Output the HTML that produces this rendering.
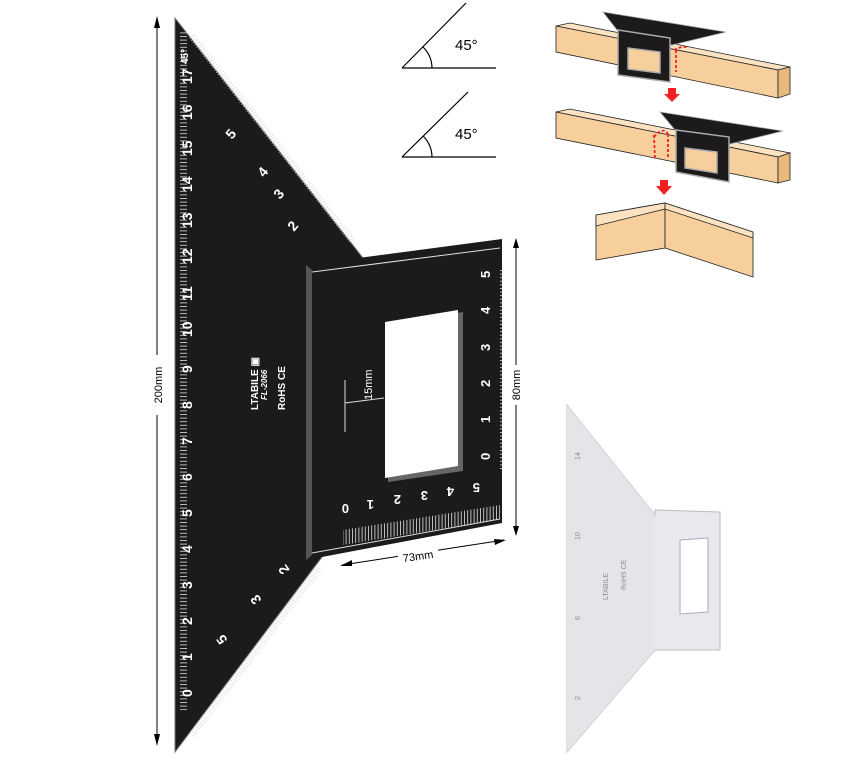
<!DOCTYPE html>
<html><head><meta charset="utf-8"><style>
body{margin:0;background:#fff;width:842px;height:768px;overflow:hidden}
svg{display:block;font-family:"Liberation Sans",sans-serif}
</style></head><body>
<svg width="842" height="768" viewBox="0 0 842 768">
<defs>
<pattern id="tk" x="0" y="18" width="20" height="3.6" patternUnits="userSpaceOnUse">
<line x1="0" y1="0.5" x2="8" y2="0.5" stroke="#fff" stroke-width="0.7"/></pattern>
<pattern id="tkh" x="0" y="0" width="3.2" height="20" patternUnits="userSpaceOnUse">
<line x1="0.5" y1="0" x2="0.5" y2="20" stroke="#fff" stroke-width="0.7"/></pattern>
<pattern id="tkg" x="0" y="0" width="20" height="2" patternUnits="userSpaceOnUse">
<line x1="0" y1="0.5" x2="5" y2="0.5" stroke="#9aa" stroke-width="0.5"/></pattern>
</defs>
<line x1="157" y1="22" x2="157" y2="740" stroke="#000"/>
<polygon points="157,16 154,28 160,28" fill="#000"/><polygon points="157,746 154,734 160,734" fill="#000"/>
<rect x="150" y="355" width="14" height="60" fill="#fff"/>
<text transform="translate(162,385) rotate(-90)" font-size="11" text-anchor="middle">200mm</text>
<polygon points="175,18 457,378 175,752" fill="#1c1a1a"/>
<polygon points="175,18 457,378 175,752" fill="none" stroke="#777" stroke-width="1"/>
<rect x="175" y="30" width="12" height="680" fill="url(#tk)"/>
<g fill="#fff" font-size="14" font-weight="bold">
<text transform="translate(192,84) rotate(-90)">17</text><text transform="translate(192,120) rotate(-90)">16</text>
<text transform="translate(192,156) rotate(-90)">15</text><text transform="translate(192,192) rotate(-90)">14</text>
<text transform="translate(192,228) rotate(-90)">13</text><text transform="translate(192,264) rotate(-90)">12</text>
<text transform="translate(192,301) rotate(-90)">11</text><text transform="translate(192,337) rotate(-90)">10</text>
<text transform="translate(192,373) rotate(-90)">9</text><text transform="translate(192,409) rotate(-90)">8</text>
<text transform="translate(192,445) rotate(-90)">7</text><text transform="translate(192,481) rotate(-90)">6</text>
<text transform="translate(192,517) rotate(-90)">5</text><text transform="translate(192,553) rotate(-90)">4</text>
<text transform="translate(192,589) rotate(-90)">3</text><text transform="translate(192,625) rotate(-90)">2</text>
<text transform="translate(192,661) rotate(-90)">1</text><text transform="translate(192,697) rotate(-90)">0</text>
<text transform="translate(188,64) rotate(-90)" font-size="10">45°</text>
<text transform="translate(258,410) rotate(-90)" font-size="10">LTABILE ▣</text>
<text transform="translate(267,400) rotate(-90)" font-size="8" font-style="italic">FL-2066</text>
<text transform="translate(285,410) rotate(-90)" font-size="10">RoHS  CE</text>
<text transform="translate(232,140) rotate(-50)">5</text><text transform="translate(264,178) rotate(-50)">4</text>
<text transform="translate(280,200) rotate(-50)">3</text><text transform="translate(294,232) rotate(-50)">2</text>
<text transform="translate(228,640) rotate(-125)">5</text><text transform="translate(262,600) rotate(-125)">3</text>
<text transform="translate(290,570) rotate(-125)">2</text>
</g>
<line x1="192" y1="36" x2="352" y2="240" stroke="#ddd" stroke-width="7" stroke-dasharray="0.7 2.2"/>
<line x1="192" y1="735" x2="320" y2="567" stroke="#ddd" stroke-width="7" stroke-dasharray="0.7 2.2"/>
<polygon points="306,265 502,239 502,523 306,560" fill="#1c1a1a"/>
<polygon points="306,265 312,270 312,555 306,560" fill="#555"/>
<line x1="312" y1="272" x2="500" y2="248" stroke="#ddd" stroke-width="1"/>
<line x1="312" y1="553" x2="500" y2="519" stroke="#ddd" stroke-width="1"/>
<polygon points="388,324 463,312 463,471 388,482" fill="#666"/>
<polygon points="385,322 458,310 458,466 385,478" fill="#fff"/>
<rect x="490" y="270" width="12" height="200" fill="url(#tk)"/>
<polygon points="343,530 500,505 500,519 343,545" fill="url(#tkh)"/>
<g fill="#fff" font-size="13" font-weight="bold">
<text transform="translate(490,278) rotate(-90)">5</text><text transform="translate(490,314) rotate(-90)">4</text>
<text transform="translate(490,351) rotate(-90)">3</text><text transform="translate(490,387) rotate(-90)">2</text>
<text transform="translate(490,423) rotate(-90)">1</text><text transform="translate(490,460) rotate(-90)">0</text>
<text transform="translate(349,504) rotate(180)">0</text><text transform="translate(374,500) rotate(180)">1</text>
<text transform="translate(401,495) rotate(180)">2</text><text transform="translate(428,491) rotate(180)">3</text>
<text transform="translate(454,487) rotate(180)">4</text><text transform="translate(480,483) rotate(180)">5</text>
<text transform="translate(372,400) rotate(-90)" font-size="11" font-weight="normal">15mm</text>
</g>
<line x1="345" y1="380" x2="345" y2="432" stroke="#ddd"/><line x1="345" y1="403" x2="384" y2="398" stroke="#ddd"/>
<line x1="516" y1="244" x2="516" y2="530" stroke="#000"/>
<polygon points="516,238 513,248 519,248" fill="#000"/><polygon points="516,536 513,526 519,526" fill="#000"/>
<rect x="510" y="365" width="12" height="40" fill="#fff"/>
<text transform="translate(520,385) rotate(-90)" font-size="11" text-anchor="middle">80mm</text>
<line x1="342" y1="565" x2="504" y2="540" stroke="#000"/>
<polygon points="340,566 352,560 352,566" fill="#000"/><polygon points="506,540 494,539 495,545" fill="#000"/>
<rect x="398" y="548" width="40" height="14" fill="#fff"/>
<text x="418" y="560" font-size="11" text-anchor="middle" transform="rotate(-8 418 556)">73mm</text>
<g stroke="#000" fill="none" stroke-width="1.2">
<line x1="402" y1="68" x2="496" y2="68"/><line x1="402" y1="68" x2="466" y2="3"/><path d="M432,68 A30,30 0 0 0 423,47"/>
<line x1="402" y1="157" x2="496" y2="157"/><line x1="402" y1="157" x2="468" y2="92"/><path d="M432,157 A30,30 0 0 0 423,136"/>
</g>
<text x="455" y="50" font-size="15">45°</text><text x="455" y="139" font-size="15">45°</text>
<g stroke="#222" stroke-width="0.8">
<polygon points="556,26 570,23 790,67 778,70" fill="#fbe3c2"/>
<polygon points="556,26 778,70 778,98 556,52" fill="#f6cf9c"/>
<polygon points="778,70 790,67 790,94 778,98" fill="#e8b97d"/>
<polygon points="603,12 726,32 672,45 617,30" fill="#1c1a1a" stroke="#aaa"/>
<polygon points="618,30 670,38 670,82 618,75" fill="#1c1a1a" stroke="#aaa" stroke-width="1.5"/>
<polygon points="628,48 660,52 660,73 628,69" fill="#f6cf9c" stroke="#aaa" stroke-width="1.5"/>
<polygon points="556,112 570,109 790,153 778,157" fill="#fbe3c2"/>
<polygon points="556,112 778,157 778,183 556,138" fill="#f6cf9c"/>
<polygon points="778,157 790,153 790,180 778,183" fill="#e8b97d"/>
<polygon points="660,112 783,131 730,144 675,130" fill="#1c1a1a" stroke="#aaa"/>
<polygon points="676,130 729,137 729,182 676,172" fill="#1c1a1a" stroke="#aaa" stroke-width="1.5"/>
<polygon points="685,148 717,152 717,173 685,168" fill="#f6cf9c" stroke="#aaa" stroke-width="1.5"/>
<polygon points="596,215 665,203 665,248 596,260" fill="#f6cf9c"/>
<polygon points="665,203 753,232 753,277 665,248" fill="#f6cf9c"/>
<polygon points="596,215 665,203 665,209 596,226" fill="#fbe3c2"/>
<polygon points="665,203 753,232 753,238 665,209" fill="#fbe3c2"/>
</g>
<g stroke="#e22" stroke-width="1.8" stroke-dasharray="3 2" fill="none">
<path d="M674,50 Q684,45 688,48"/><line x1="676" y1="50" x2="676" y2="72"/>
<path d="M654,137 Q663,126 668,134"/><line x1="654" y1="135" x2="655" y2="160"/><line x1="668" y1="134" x2="668" y2="158"/>
</g>
<polygon points="668,88 676,88 676,94 680,94 672,102 664,94 668,94" fill="#e22"/>
<polygon points="660,180 668,180 668,186 672,186 664,195 656,186 660,186" fill="#e22"/>
<polygon points="567,405 655,515 655,510 720,512 720,650 655,650 567,752" fill="#e7e9ec" stroke="#b8bcc0"/>
<polygon points="567,405 655,515 655,650 567,752" fill="#e3e5e8"/>
<rect x="567" y="420" width="8" height="320" fill="url(#tkg)"/>
<polygon points="680,540 708,538 708,612 680,614" fill="#fff" stroke="#aab"/>
<rect x="710" y="520" width="8" height="110" fill="url(#tkg)"/>
<g fill="#889" font-size="7">
<text transform="translate(580,460) rotate(-90)">14</text><text transform="translate(580,540) rotate(-90)">10</text>
<text transform="translate(580,620) rotate(-90)">6</text><text transform="translate(580,700) rotate(-90)">2</text>
<text transform="translate(608,600) rotate(-90)">LTABILE</text><text transform="translate(626,590) rotate(-90)">RoHS CE</text>
</g>
</svg>
</body></html>
